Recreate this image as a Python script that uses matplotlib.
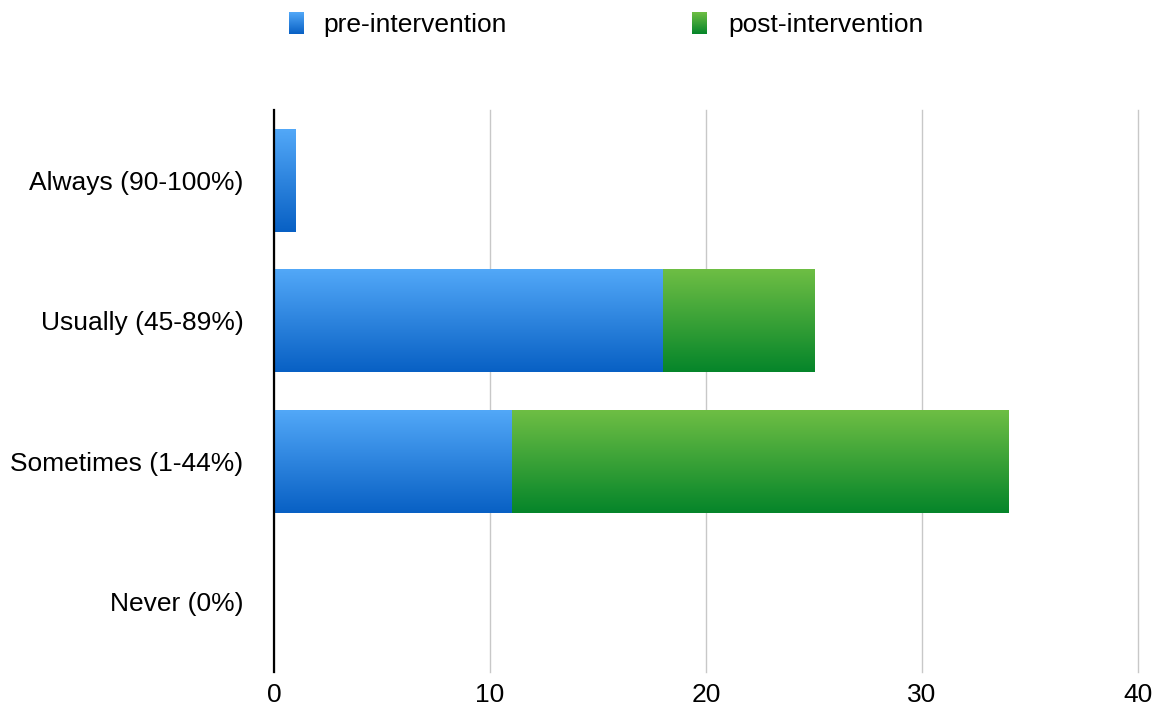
import numpy as np
import matplotlib.pyplot as plt
from matplotlib.colors import LinearSegmentedColormap

plt.rcParams.update({'font.size': 19, 'font.family': ['Liberation Sans', 'DejaVu Sans']})

categories = ['Always (90-100%)', 'Usually (45-89%)', 'Sometimes (1-44%)', 'Never (0%)']
pre = [1, 18, 11, 0]
post = [0, 7, 23, 0]
series_names = ['pre-intervention', 'post-intervention']

# gradient colours (bottom -> top)
blue = LinearSegmentedColormap.from_list('b', ['#0860c4', '#52a8f8'])
green = LinearSegmentedColormap.from_list('g', ['#05852a', '#6ebe44'])

fig = plt.figure(figsize=(11.63, 7.13), dpi=100)
ax = fig.add_axes([274 / 1163, 1 - 672 / 713, (1138 - 274) / 1163, (672 - 110) / 713])

y = np.arange(len(categories))
bars_pre = ax.barh(y, pre, height=0.73, color='none', edgecolor='none')
bars_post = ax.barh(y, post, left=pre, height=0.73, color='none', edgecolor='none')

grad = np.linspace(0, 1, 256).reshape(-1, 1)


def fill_gradient(bars, cmap):
    for b in bars:
        if b.get_width() <= 0:
            continue
        x0, y0 = b.get_x(), b.get_y()
        w, h = b.get_width(), b.get_height()
        im = ax.imshow(grad[::-1], cmap=cmap, aspect='auto', origin='upper',
                       extent=[x0, x0 + w, y0 + h, y0], zorder=2)
        im.set_clip_path(b)


fill_gradient(bars_pre, blue)
fill_gradient(bars_post, green)

ax.set_xlim(0, 40)
ax.set_ylim(3.5, -0.5)
ax.set_xticks([0, 10, 20, 30, 40])
ax.set_yticks(y)
ax.set_yticklabels(categories)
ax.tick_params(axis='both', length=0, labelsize=19)
ax.tick_params(axis='x', pad=8)
ax.tick_params(axis='y', pad=22)
ax.xaxis.grid(True, color='#c8c8c8', linewidth=1)
for gl in ax.get_xgridlines():
    gl.set_clip_on(False)
ax.set_axisbelow(True)
for s in ['top', 'right', 'bottom']:
    ax.spines[s].set_visible(False)
ax.spines['left'].set_linewidth(1.6)
ax.spines['left'].set_zorder(5)

# legend drawn by hand so the swatches keep the gradient
for name, cmap, mx, tx in [(series_names[0], blue, 289, 323), (series_names[1], green, 692, 728)]:
    sw = fig.add_axes([mx / 1163, 1 - 34 / 713, 15 / 1163, 22 / 713])
    sw.imshow(grad[::-1], cmap=cmap, aspect='auto')
    sw.axis('off')
    fig.text(tx / 1163, 1 - 25 / 713, name, fontsize=19, va='center', ha='left')

fig.savefig('out.png', dpi=100)
